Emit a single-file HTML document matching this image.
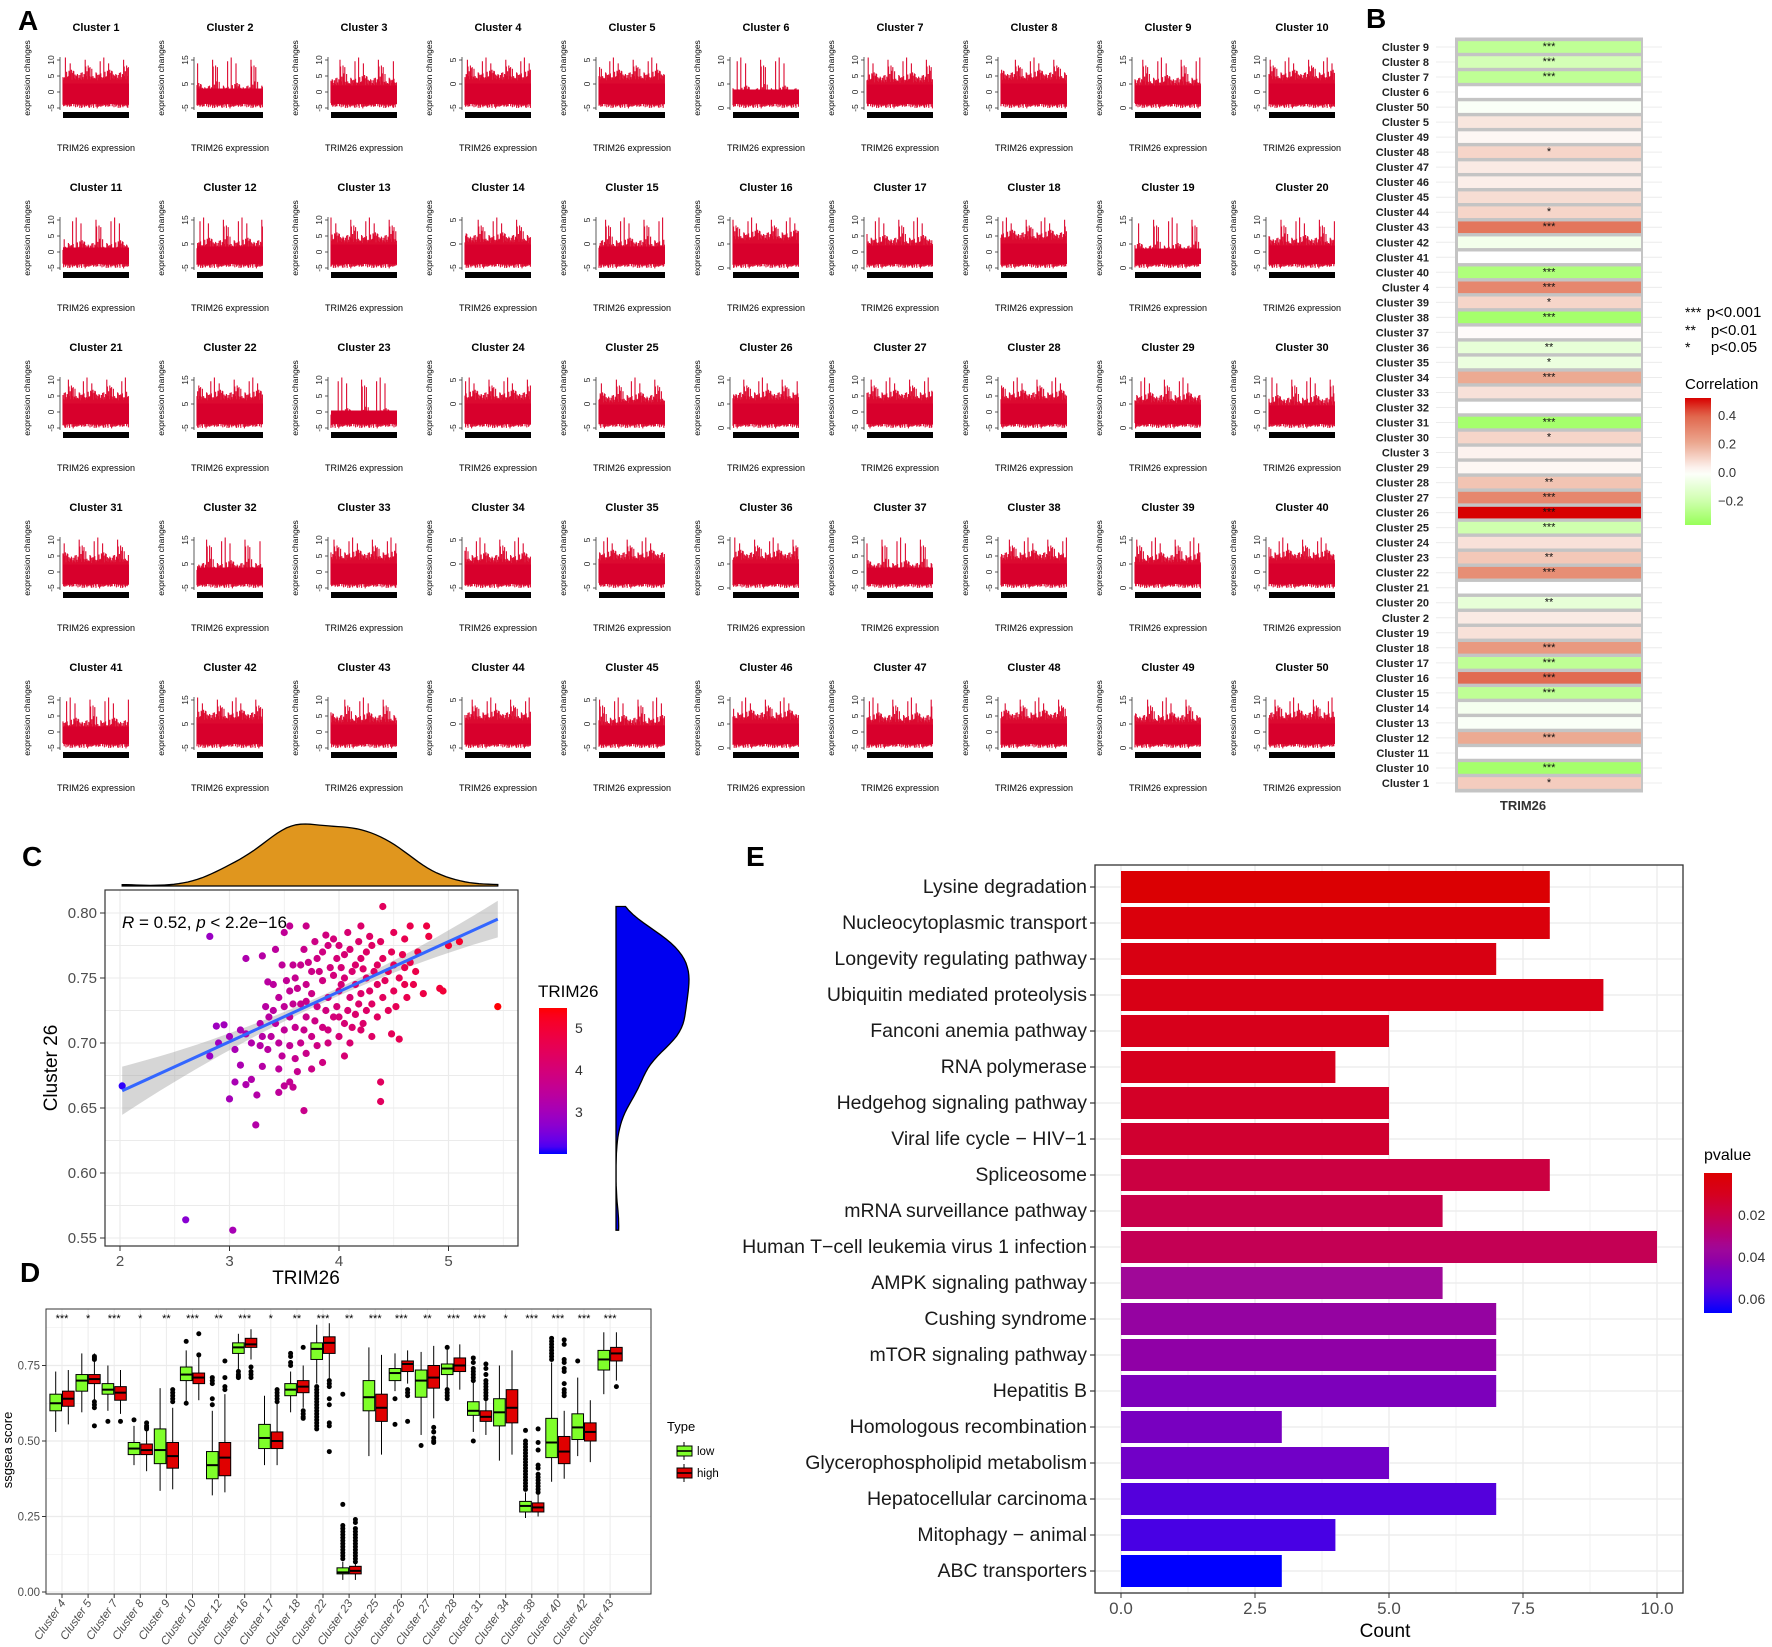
<!DOCTYPE html>
<html><head><meta charset="utf-8"><style>
html,body{margin:0;padding:0;background:#fff}
svg{display:block;font-family:"Liberation Sans",Arial,sans-serif}
</style></head><body>
<svg id="fig" xmlns="http://www.w3.org/2000/svg" width="1772" height="1647" viewBox="0 0 1772 1647">
<rect x="0" y="0" width="1772" height="1647" fill="#fff"/>
<text x="18" y="30" font-size="28" font-weight="bold">A</text>
<text x="1366" y="28" font-size="28" font-weight="bold">B</text>
<text x="22" y="866" font-size="28" font-weight="bold">C</text>
<text x="20" y="1282" font-size="28" font-weight="bold">D</text>
<text x="746" y="866" font-size="28" font-weight="bold">E</text>
<g id="gA"></g>
<g id="gB"></g>
<g id="gC"></g>
<g id="gD"></g>
<g id="gE"></g>
</svg>
<script>
// ---------- DATA ----------
// Panel A (mini plots)
const spikeHi=[0.62,0.71,0.58,0.95,0.66,0.60,0.74,0.57,0.69,0.63,0.82,0.59,0.67,0.72,0.61,0.56,0.78,0.64,0.70,0.58,0.88,0.62,0.66,0.60,0.73,0.57,0.65,0.69,0.99,0.61,0.64,0.58,0.71,0.63,0.76,0.60,0.67,0.59,0.84,0.62,0.68,0.57,0.72,0.65,0.61,0.79,0.58,0.66,0.70,0.63,0.92,0.60,0.64,0.68,0.57,0.74,0.62,0.69,0.59,0.81,0.66,0.61,0.73,0.64];
const spikeLo=[0.10,0.06,0.12,0.08,0.04,0.11,0.09,0.07,0.13,0.05,0.10,0.08,0.12,0.06,0.09,0.03,0.11,0.07,0.10,0.05,0.12,0.08,0.06,0.11,0.09,0.04,0.10,0.07,0.13,0.06,0.08,0.10,0.05,0.12,0.07,0.09,0.11,0.04,0.08,0.10,0.06,0.12,0.09,0.07,0.11,0.05,0.10,0.08,0.13,0.06,0.09,0.11,0.04,0.07,0.10,0.12,0.08,0.06,0.11,0.09,0.05,0.10,0.07,0.12];
const clusterDrop=[0,0.25,0.1,0,0,0.3,0.05,0,0.1,0, 0.2,0.15,0.05,0.05,0.15,0,0.1,0,0.25,0.1, 0,0,0.35,0,0.05,0,0,0,0.05,0.1, 0.05,0.2,0,0.05,0,0,0.2,0,0.05,0, 0.15,0,0.05,0,0.1,0,0.05,0,0.05,0];
const tickSets=[["-5","0","5","10"],["-5","5","15"],["-5","0","5","10"],["-5","0","5"],["-5","0","5"],["0","5","10"],["-5","0","5","10"],["-5","0","5","10"],["0","5","15"],["-5","0","5","10"]];
// Panel B
const bNames=["Cluster 9","Cluster 8","Cluster 7","Cluster 6","Cluster 50","Cluster 5","Cluster 49","Cluster 48","Cluster 47","Cluster 46","Cluster 45","Cluster 44","Cluster 43","Cluster 42","Cluster 41","Cluster 40","Cluster 4","Cluster 39","Cluster 38","Cluster 37","Cluster 36","Cluster 35","Cluster 34","Cluster 33","Cluster 32","Cluster 31","Cluster 30","Cluster 3","Cluster 29","Cluster 28","Cluster 27","Cluster 26","Cluster 25","Cluster 24","Cluster 23","Cluster 22","Cluster 21","Cluster 20","Cluster 2","Cluster 19","Cluster 18","Cluster 17","Cluster 16","Cluster 15","Cluster 14","Cluster 13","Cluster 12","Cluster 11","Cluster 10","Cluster 1"];
const bCorr=[-0.25,-0.18,-0.25,0.0,-0.02,0.06,0.02,0.1,0.05,0.04,0.08,0.1,0.35,-0.05,0.0,-0.3,0.3,0.1,-0.33,0.01,-0.1,-0.08,0.2,0.07,0.0,-0.33,0.1,0.03,0.02,0.14,0.3,0.52,-0.2,0.07,0.13,0.28,0.0,-0.1,0.05,0.07,0.25,-0.25,0.38,-0.25,-0.04,-0.02,0.2,0.0,-0.33,0.12];
const bStars=["***","***","***","","","","","*","","","","*","***","","","***","***","*","***","","**","*","***","","","***","*","","","**","***","***","***","","**","***","","**","","","***","***","***","***","","","***","","***","*"];
// Panel C
const scX=[2.02,2.82,2.6,3.03,5.45,4.4,3.5,2.88,2.95,3.1,3.15,3.0,2.9,3.3,3.28,2.82,3.05,3.2,3.35,3.1,3.2,3.15,3.05,3.3,3.45,3.55,3.0,3.25,3.45,3.24,3.68,3.5,3.58,4.38,4.38,4.48,4.55,4.3,4.2,3.9,4.0,4.6,4.95,4.92,4.77,5.0,5.1,4.5,4.6,4.82,4.65,4.8,4.2,3.7,3.55,3.3,3.42,3.15,3.35,3.45,3.5,3.55,3.6,3.65,3.7,3.75,3.8,3.85,3.9,3.95,4.0,4.05,4.1,4.15,4.2,4.25,4.3,4.35,4.4,4.45,4.5,4.55,4.6,4.65,4.7,4.35,4.25,4.15,4.05,3.95,3.85,3.75,3.65,3.55,3.6,3.7,3.8,3.9,4.0,4.1,4.2,4.3,4.4,4.5,4.45,4.35,4.25,4.15,4.05,3.95,3.85,3.75,3.65,3.55,3.5,3.42,3.4,3.38,3.48,3.6,3.7,3.8,3.9,4.0,4.1,3.62,3.75,3.85,4.05,3.58,3.68,3.78,3.88,3.98,4.08,4.18,4.28,4.38,3.92,4.02,4.12,4.22,3.82,3.72,3.62,3.52,3.48,3.4,4.48,4.58,4.68,4.72,3.33,3.36,3.28,3.98,4.08,3.88,3.78,3.68,4.28,4.18,3.45,3.58,3.7,4.02,4.32,4.42,4.52,4.62,4.12,4.22];
const scY=[0.667,0.782,0.564,0.556,0.728,0.805,0.785,0.713,0.714,0.71,0.707,0.705,0.7,0.705,0.698,0.69,0.695,0.7,0.695,0.683,0.672,0.668,0.67,0.682,0.68,0.67,0.657,0.66,0.662,0.637,0.648,0.667,0.666,0.67,0.655,0.707,0.703,0.705,0.71,0.71,0.72,0.745,0.74,0.742,0.738,0.775,0.778,0.785,0.78,0.782,0.79,0.79,0.79,0.79,0.79,0.767,0.772,0.765,0.747,0.735,0.728,0.74,0.75,0.76,0.745,0.755,0.765,0.77,0.775,0.78,0.775,0.768,0.772,0.76,0.765,0.77,0.775,0.76,0.765,0.755,0.76,0.75,0.758,0.762,0.755,0.745,0.75,0.745,0.75,0.752,0.748,0.738,0.73,0.72,0.712,0.72,0.728,0.735,0.74,0.735,0.738,0.73,0.735,0.74,0.725,0.72,0.725,0.722,0.715,0.72,0.712,0.705,0.7,0.698,0.71,0.715,0.725,0.705,0.69,0.688,0.692,0.698,0.7,0.705,0.7,0.678,0.68,0.685,0.69,0.76,0.772,0.778,0.783,0.765,0.785,0.778,0.782,0.778,0.758,0.758,0.755,0.757,0.755,0.762,0.742,0.748,0.76,0.745,0.77,0.768,0.745,0.77,0.728,0.72,0.715,0.728,0.725,0.725,0.717,0.71,0.74,0.73,0.7,0.73,0.732,0.745,0.755,0.748,0.728,0.735,0.712,0.715];
const cXTicks=[2,3,4,5];
const cYTicks=[0.55,0.60,0.65,0.70,0.75,0.80];
const fitLine=[0.5855,0.0385]; // intercept, slope
// Panel D
const dGroups=["Cluster 4","Cluster 5","Cluster 7","Cluster 8","Cluster 9","Cluster 10","Cluster 12","Cluster 16","Cluster 17","Cluster 18","Cluster 22","Cluster 23","Cluster 25","Cluster 26","Cluster 27","Cluster 28","Cluster 31","Cluster 34","Cluster 38","Cluster 40","Cluster 42","Cluster 43"];
const dStars=["***","*","***","*","**","***","**","***","*","**","***","**","***","***","**","***","***","*","***","***","***","***"];
// [whiskerLow, q1, median, q3, whiskerHigh]
const dLow=[[.53,.60,.625,.655,.73],[.595,.665,.70,.72,.79],[.60,.655,.67,.69,.75],[.42,.455,.475,.495,.55],[.335,.425,.47,.54,.675],[.63,.70,.72,.745,.80],[.32,.375,.42,.465,.60],[.73,.79,.81,.825,.855],[.42,.475,.51,.555,.65],[.595,.65,.67,.69,.73],[.69,.77,.805,.825,.885],[.04,.06,.065,.08,.10],[.45,.60,.645,.70,.81],[.665,.70,.725,.74,.79],[.52,.645,.70,.735,.795],[.67,.72,.74,.755,.815],[.53,.585,.60,.63,.70],[.435,.55,.595,.64,.75],[.245,.265,.285,.30,.33],[.365,.445,.495,.575,.76],[.45,.505,.545,.59,.71],[.655,.735,.77,.80,.86]];
const dHigh=[[.555,.615,.64,.665,.735],[.62,.69,.705,.72,.79],[.59,.635,.66,.68,.735],[.40,.455,.47,.49,.55],[.34,.41,.45,.495,.61],[.635,.69,.71,.725,.78],[.33,.385,.445,.495,.655],[.77,.81,.82,.84,.87],[.42,.475,.50,.53,.63],[.61,.66,.68,.70,.75],[.69,.79,.825,.845,.89],[.04,.06,.07,.085,.105],[.455,.565,.61,.655,.785],[.69,.73,.755,.765,.80],[.575,.675,.71,.75,.815],[.67,.73,.75,.775,.82],[.52,.565,.58,.60,.66],[.455,.56,.61,.67,.80],[.25,.265,.28,.295,.33],[.375,.425,.465,.515,.60],[.43,.50,.53,.56,.635],[.70,.765,.79,.81,.86]];
const dOutLow=[[],[],[.565],[.57],[],[.83,.625],[.71,.70,.69,.64,.62],[.73,.72,.715,.71],[],[.79,.78,.76,.75],[.68,.67,.66,.65,.64,.63,.62,.61,.60,.59,.58,.57,.56,.55,.54],[.655,.29,.22,.21,.2,.19,.18,.17,.16,.15,.14,.13,.12,.11],[],[.64,.555],[.485],[.81,.67,.66,.65,.64],[.775,.76,.74,.73,.72,.71,.70,.5],[],[.535,.5,.49,.48,.47,.46,.45,.44,.43,.42,.41,.4,.39,.38,.37,.36,.35,.34],[.84,.83,.82,.81,.80,.79,.78,.77],[.765],[]];
const dOutHigh=[[],[.77,.775,.78,.63,.62,.61,.55],[.565],[.55,.545,.54,.56],[.67,.66,.65,.64,.63],[.855,.785],[.765,.71,.68,.67],[.745,.73,.72,.71],[.67,.66,.65,.64,.63],[.81,.60,.59,.58,.575],[.70,.69,.68,.64,.62,.56,.55,.465],[.24,.23,.21,.2,.19,.18,.17,.16,.15,.14,.13,.12,.11,.10],[],[.67,.66,.65,.565],[.545,.53,.51,.50,.495],[],[.755,.74,.72,.70,.69,.68,.67,.66,.65,.64],[],[.54,.495,.47,.42,.41,.39,.38,.37,.36,.35,.34,.33],[.835,.82,.77,.76,.74,.73,.69,.67,.66,.65],[],[.68]];
const dYTicks=[0,0.25,0.5,0.75];
const dYLabels=["0.00","0.25","0.50","0.75"];
// Panel E
const ePaths=["Lysine degradation","Nucleocytoplasmic transport","Longevity regulating pathway","Ubiquitin mediated proteolysis","Fanconi anemia pathway","RNA polymerase","Hedgehog signaling pathway","Viral life cycle \u2212 HIV\u22121","Spliceosome","mRNA surveillance pathway","Human T\u2212cell leukemia virus 1 infection","AMPK signaling pathway","Cushing syndrome","mTOR signaling pathway","Hepatitis B","Homologous recombination","Glycerophospholipid metabolism","Hepatocellular carcinoma","Mitophagy \u2212 animal","ABC transporters"];
const eCounts=[8,8,7,9,5,4,5,5,8,6,10,6,7,7,7,3,5,7,4,3];
const ePvals=[0.001,0.004,0.006,0.007,0.009,0.010,0.012,0.014,0.018,0.020,0.022,0.036,0.040,0.042,0.046,0.047,0.050,0.056,0.058,0.067];
const eXTicks=[0,2.5,5,7.5,10];
const eXLabels=["0.0","2.5","5.0","7.5","10.0"];
const ePTicks=[0.02,0.04,0.06];

// ---------- HELPERS ----------
const NS="http://www.w3.org/2000/svg";
function mk(tag,attrs,parent,txt){const e=document.createElementNS(NS,tag);for(const k in attrs)e.setAttribute(k,attrs[k]);if(txt!==undefined)e.textContent=txt;parent.appendChild(e);return e;}
function hex(c){return [parseInt(c.slice(1,3),16),parseInt(c.slice(3,5),16),parseInt(c.slice(5,7),16)];}
function rgbStr(a){return "rgb("+a.map(v=>Math.round(Math.max(0,Math.min(255,v)))).join(",")+")";}
function srgb2lin(c){c/=255;return c<=0.04045?c/12.92:Math.pow((c+0.055)/1.055,2.4);}
function lin2srgb(c){c=c<=0.0031308?12.92*c:1.055*Math.pow(c,1/2.4)-0.055;return c*255;}
function toLab(rgb){const[r,g,b]=rgb.map(srgb2lin);let X=(0.4124*r+0.3576*g+0.1805*b)/0.95047,Y=0.2126*r+0.7152*g+0.0722*b,Z=(0.0193*r+0.1192*g+0.9505*b)/1.08883;const f=t=>t>0.008856?Math.cbrt(t):7.787*t+16/116;const fx=f(X),fy=f(Y),fz=f(Z);return[116*fy-16,500*(fx-fy),200*(fy-fz)];}
function fromLab(l){const fy=(l[0]+16)/116,fx=fy+l[1]/500,fz=fy-l[2]/200;const fi=t=>t*t*t>0.008856?t*t*t:(t-16/116)/7.787;const X=fi(fx)*0.95047,Y=fi(fy),Z=fi(fz)*1.08883;const r=3.2406*X-1.5372*Y-0.4986*Z,g=-0.9689*X+1.8758*Y+0.0415*Z,b=0.0557*X-0.2040*Y+1.0570*Z;return[lin2srgb(r),lin2srgb(g),lin2srgb(b)];}
function labMix(c1,c2,t){const a=toLab(hex(c1)),b=toLab(hex(c2));return rgbStr(fromLab(a.map((v,i)=>v+(b[i]-v)*t)));}
function stops(list,v){if(v<=list[0][0])return rgbStr(hex(list[0][1]));for(let i=1;i<list.length;i++){if(v<=list[i][0]){const t=(v-list[i-1][0])/(list[i][0]-list[i-1][0]);const a=hex(list[i-1][1]),b=hex(list[i][1]);return rgbStr(a.map((x,k)=>x+(b[k]-x)*t));}}return rgbStr(hex(list[list.length-1][1]));}

// ---------- PANEL A ----------
(function(){
const g=document.getElementById('gA');
for(let c=0;c<50;c++){
  const col=c%10,row=Math.floor(c/10);
  const cx=96+134*col, oy=160*row;
  const sub=mk('g',{},g);
  
  
  const t=mk('text',{x:cx,y:31+oy,'font-size':11,'font-weight':'bold','text-anchor':'middle'},sub,'Cluster '+(c+1));
  
  
  const yl=mk('text',{x:0,y:0,'font-size':8.5,'text-anchor':'middle',transform:'translate('+(cx-66)+','+(78+oy)+') rotate(-90)'},sub,'expression changes');
  
  
  const xl=mk('text',{x:cx,y:151+oy,'font-size':9,'text-anchor':'middle'},sub,'TRIM26 expression');
  
  
  const ax=mk('line',{x1:cx-36,x2:cx-36,y1:57+oy,y2:110+oy,stroke:'#333','stroke-width':0.8},sub);
  
  
  const ts=tickSets[c%10];
  ts.forEach((lab,i)=>{
    const yy=108+oy-i*(48/(ts.length-1));
    const tk=mk('line',{x1:cx-39,x2:cx-36,y1:yy,y2:yy,stroke:'#333','stroke-width':0.8},sub);
    
    
    const tl=mk('text',{x:0,y:0,'font-size':8.5,'text-anchor':'middle',fill:'#222',transform:'translate('+(cx-42)+','+yy+') rotate(-90)'},sub,lab);
    
    
  });
  const drop=clusterDrop[c];
  let d='';
  for(let j=0;j<110;j++){
    const idx=(j*7+c*13)%64;
    let hi=spikeHi[idx]; if(hi<0.8) hi-=drop;
    const lo=spikeLo[(idx+c)%64];
    const x=cx-33+j*0.6;
    d+='M'+x.toFixed(1)+' '+(110+oy-lo*53).toFixed(1)+'V'+(110+oy-hi*53).toFixed(1);
  }
  const p=mk('path',{d:d,stroke:'#dc0a30','stroke-width':1.1,fill:'none'},sub);
  
  
  const core=mk('rect',{x:cx-33,y:110+oy-0.5*53+drop*20,width:66,height:(0.5-drop*0.38)*53-6,fill:'#d8002c'},sub);
  
  
  const bar=mk('rect',{x:cx-33,y:112+oy,width:66,height:6,fill:'#000'},sub);
  
  
}
})();

// ---------- PANEL B ----------
(function(){
const g=document.getElementById('gB');
const heat=[[-0.37,'#98ff58'],[-0.2,'#cfffae'],[0,'#ffffff'],[0.2,'#ecaa92'],[0.4,'#e0644a'],[0.52,'#d80000']];
const y0=47,step=15.02;
const bg=mk('rect',{x:1455,y:y0-step/2-2,width:188,height:step*50+4,fill:'#c4c4c4'},g);


bNames.forEach((n,i)=>{
  const y=y0+i*step;
  const gl=mk('line',{x1:1436,x2:1662,y1:y,y2:y,stroke:'#ececec','stroke-width':1},g);
  
  
  const lab=mk('text',{x:1429,y:y+4,'font-size':11,'font-weight':'bold','text-anchor':'end',fill:'#222'},g,n);
  
  
});
g.appendChild(bg);
bNames.forEach((n,i)=>{
  const y=y0+i*step;
  const r=mk('rect',{x:1458,y:y-5.8,width:183,height:11.6,fill:stops(heat,bCorr[i])},g);
  
  
  if(bStars[i]){
    const s=mk('text',{x:1549,y:y+3,'font-size':11,'text-anchor':'middle',fill:'#111'},g,bStars[i]);
    
    
  }
});
const xl=mk('text',{x:1523,y:810,'font-size':13,'font-weight':'bold','text-anchor':'middle',fill:'#333'},g,'TRIM26');


[["***","p<0.001",317],["**","p<0.01",335],["*","p<0.05",352]].forEach(a=>{
  const t1=mk('text',{x:1685,y:a[2],'font-size':14},g,a[0]);
  
  
  const t2=mk('text',{x:1734,y:a[2],'font-size':15,'text-anchor':'middle'},g,a[1]);
  
  
});
const ct=mk('text',{x:1685,y:389,'font-size':15},g,'Correlation');


const defs=mk('defs',{},g);
const lg=mk('linearGradient',{id:'corrGrad',x1:0,y1:0,x2:0,y2:1},defs);
for(let k=0;k<=20;k++){const v=0.52-k*(0.89/20);mk('stop',{offset:(k/20),'stop-color':stops(heat,v)},lg);}
const cb=mk('rect',{x:1685,y:398,width:26,height:127,fill:'url(#corrGrad)'},g);


[["0.4",0.4],["0.2",0.2],["0.0",0],["\u22120.2",-0.2]].forEach(a=>{
  const y=398+(0.52-a[1])/0.89*127;
  const t=mk('text',{x:1718,y:y+5,'font-size':13,fill:'#333'},g,a[0]);
  
  
});
})();

// ---------- PANEL C ----------
(function(){
const g=document.getElementById('gC');
const L=105,R=518,T=890,B=1246;
const X=v=>120+(v-2)*109.5, Y=v=>913+(0.80-v)/0.05*65;
const fr=mk('rect',{x:L,y:T,width:R-L,height:B-T,fill:'#fff',stroke:'#333','stroke-width':1.2},g);


for(let v=1.5;v<=5.51;v+=0.5){const x=X(v);if(x<L||x>R)continue;const l=mk('line',{x1:x,x2:x,y1:T,y2:B,stroke:'#ebebeb','stroke-width':Number.isInteger(v)?1.2:0.7},g);}
for(let v=0.525;v<=0.81;v+=0.025){const y=Y(v);if(y<T||y>B)continue;const l=mk('line',{x1:L,x2:R,y1:y,y2:y,stroke:'#ebebeb','stroke-width':1},g);}
g.appendChild(fr); fr.setAttribute('fill','none');
const xa=2.02,xb=5.45;
const mean=scX.reduce((a,b)=>a+b,0)/scX.length;
const se=x=>0.003+0.0045*Math.pow(x-mean,2);
let up='',dn='';
for(let k=0;k<=30;k++){const x=xa+(xb-xa)*k/30;const yv=fitLine[0]+fitLine[1]*x;up+=(k?'L':'M')+X(x).toFixed(1)+' '+Y(yv+se(x)).toFixed(1);dn='L'+X(x).toFixed(1)+' '+Y(yv-se(x)).toFixed(1)+dn;}
const rb=mk('path',{d:up+dn+'Z',fill:'#999',opacity:0.4},g);


const tcol=v=>labMix('#0000ff','#ff0000',Math.max(0,Math.min(1,(v-1.95)/3.53)));
scX.forEach((x,i)=>{
  const c=mk('circle',{cx:X(x),cy:Y(scY[i]),r:3.6,fill:tcol(x)},g);
  
  
});
const ln=mk('line',{x1:X(xa),y1:Y(fitLine[0]+fitLine[1]*xa),x2:X(xb),y2:Y(fitLine[0]+fitLine[1]*xb),stroke:'#3366ff','stroke-width':3},g);


const st=mk('text',{x:122,y:928,'font-size':17},g);


st.innerHTML='<tspan font-style="italic">R</tspan> = 0.52, <tspan font-style="italic">p</tspan> &lt; 2.2e\u221216';
cXTicks.forEach(v=>{const x=X(v);const tk=mk('line',{x1:x,x2:x,y1:B,y2:B+5,stroke:'#333'},g);const t=mk('text',{x:x,y:B+20,'font-size':15,'text-anchor':'middle',fill:'#4d4d4d'},g,String(v));});
cYTicks.forEach(v=>{const y=Y(v);const tk=mk('line',{x1:L-5,x2:L,y1:y,y2:y,stroke:'#333'},g);const t=mk('text',{x:L-8,y:y+5,'font-size':15,'text-anchor':'end',fill:'#4d4d4d'},g,v.toFixed(2));});
const xt=mk('text',{x:306,y:1284,'font-size':19,'text-anchor':'middle'},g,'TRIM26');


const yt=mk('text',{x:0,y:0,'font-size':19,'text-anchor':'middle',transform:'translate(57,1068) rotate(-90)'},g,'Cluster 26');


function kde(arr,bw,v){let s=0;arr.forEach(a=>{const z=(v-a)/bw;s+=Math.exp(-0.5*z*z);});return s;}
const xmin=Math.min(...scX),xmax=Math.max(...scX);
let pts=[],mx=0;
for(let k=0;k<=80;k++){const v=xmin+(xmax-xmin)*k/80;const d=kde(scX,0.17,v);pts.push([v,d]);mx=Math.max(mx,d);}
let dp='M'+X(xmin)+' 886';pts.forEach(p=>dp+='L'+X(p[0]).toFixed(1)+' '+(886-p[1]/mx*62).toFixed(1));dp+='L'+X(xmax)+' 886Z';
const td=mk('path',{d:dp,fill:'#e0961e',stroke:'#000','stroke-width':1.3},g);


const ymin=Math.min(...scY),ymax=Math.max(...scY);
pts=[];mx=0;
for(let k=0;k<=80;k++){const v=ymin+(ymax-ymin)*k/80;const d=kde(scY,0.013,v);pts.push([v,d]);mx=Math.max(mx,d);}
dp='M616 '+Y(ymin);pts.forEach(p=>dp+='L'+(616+p[1]/mx*73).toFixed(1)+' '+Y(p[0]).toFixed(1));dp+='L616 '+Y(ymax)+'Z';
const rd=mk('path',{d:dp,fill:'#0000f0',stroke:'#000','stroke-width':1.3},g);


const lt=mk('text',{x:538,y:997,'font-size':17},g,'TRIM26');


const defs=mk('defs',{},g);
const lg=mk('linearGradient',{id:'trimGrad',x1:0,y1:0,x2:0,y2:1},defs);
for(let k=0;k<=20;k++)mk('stop',{offset:k/20,'stop-color':labMix('#ff0000','#0000ff',k/20)},lg);
const cb=mk('rect',{x:539,y:1008,width:28,height:146,fill:'url(#trimGrad)'},g);


[5,4,3].forEach(v=>{const y=1028+(5-v)*42;const t=mk('text',{x:575,y:y+5,'font-size':14,fill:'#333'},g,String(v));});
})();

// ---------- PANEL D ----------
(function(){
const g=document.getElementById('gD');
const L=46,R=651,T=1309,B=1594;
const Y=v=>1592-v/0.25*75.5, X=i=>62+i*26.1;
const fr=mk('rect',{x:L,y:T,width:R-L,height:B-T,fill:'none',stroke:'#333','stroke-width':1},g);
for(let v=0;v<=0.95;v+=0.125){const l=mk('line',{x1:L,x2:R,y1:Y(v),y2:Y(v),stroke:'#ebebeb','stroke-width':v*8%2===0?1.2:0.6},g);}
dGroups.forEach((n,i)=>{const l=mk('line',{x1:X(i),x2:X(i),y1:T,y2:B,stroke:'#ebebeb','stroke-width':1},g);});
g.appendChild(fr);


function box(cx,s,fill,outs){
  const bg=mk('g',{},g);
  
  
  mk('line',{x1:cx,x2:cx,y1:Y(s[0]),y2:Y(s[4]),stroke:'#000','stroke-width':1},bg);
  mk('rect',{x:cx-5.8,y:Y(s[3]),width:11.6,height:Y(s[1])-Y(s[3]),fill:fill,stroke:'#000','stroke-width':1},bg);
  mk('line',{x1:cx-5.8,x2:cx+5.8,y1:Y(s[2]),y2:Y(s[2]),stroke:'#000','stroke-width':2},bg);
  outs.forEach(o=>{const c=mk('circle',{cx:cx,cy:Y(o),r:2.5,fill:'#000'},bg);});
}
dGroups.forEach((n,i)=>{
  box(X(i)-6.3,dLow[i],'#7fff2a',dOutLow[i]);
  box(X(i)+6.3,dHigh[i],'#e00000',dOutHigh[i]);
  const s=mk('text',{x:X(i),y:1322,'font-size':11,'text-anchor':'middle'},g,dStars[i]);
  
  
  const tk=mk('line',{x1:X(i),x2:X(i),y1:B,y2:B+4,stroke:'#333'},g);
  
  
  const t=mk('text',{x:0,y:0,'font-size':11.5,'font-style':'italic','text-anchor':'end',fill:'#4d4d4d',transform:'translate('+(X(i)+4)+','+(B+9)+') rotate(-55)'},g,n);
  
  
});
dYTicks.forEach((v,i)=>{const tk=mk('line',{x1:L-4,x2:L,y1:Y(v),y2:Y(v),stroke:'#333'},g);const t=mk('text',{x:L-6,y:Y(v)+4,'font-size':11.5,'text-anchor':'end',fill:'#4d4d4d'},g,dYLabels[i]);});
const yt=mk('text',{x:0,y:0,'font-size':13,'text-anchor':'middle',transform:'translate(12,1450) rotate(-90)'},g,'ssgsea score');


const lt=mk('text',{x:667,y:1431,'font-size':13},g,'Type');


[['low','#7fff2a',1451],['high','#e00000',1473]].forEach(a=>{
  const kg=mk('g',{},g);
  
  
  mk('line',{x1:684,x2:684,y1:a[2]-9,y2:a[2]+9,stroke:'#000'},kg);
  mk('rect',{x:677,y:a[2]-5,width:15,height:10,fill:a[1],stroke:'#000'},kg);
  mk('line',{x1:677,x2:692,y1:a[2],y2:a[2],stroke:'#000','stroke-width':1.6},kg);
  mk('text',{x:697,y:a[2]+4,'font-size':11.5},kg,a[0]);
});
})();

// ---------- PANEL E ----------
(function(){
const g=document.getElementById('gE');
const L=1095,R=1683,T=865,B=1593;
const X=v=>1121+v*53.6, Y=i=>887+i*36;
const pscale=[[0.0,'#dc0000'],[0.010,'#d6001e'],[0.020,'#c8004a'],[0.030,'#b4007a'],[0.036,'#a00898'],[0.042,'#9000a6'],[0.047,'#7800c0'],[0.052,'#6c00cc'],[0.058,'#4800e4'],[0.067,'#0000ff']];
const pcol=p=>stops(pscale,p);
for(let v=0;v<=11;v+=1.25){const x=X(v);if(x>R)continue;const l=mk('line',{x1:x,x2:x,y1:T,y2:B,stroke:'#ebebeb','stroke-width':(v%2.5===0)?1.3:0.7},g);}
ePaths.forEach((n,i)=>{const l=mk('line',{x1:L,x2:R,y1:Y(i),y2:Y(i),stroke:'#ebebeb','stroke-width':1.3},g);});
ePaths.forEach((n,i)=>{
  const r=mk('rect',{x:X(0),y:Y(i)-16,width:X(eCounts[i])-X(0),height:32,fill:pcol(ePvals[i])},g);
  
  
  const tk=mk('line',{x1:L-5,x2:L,y1:Y(i),y2:Y(i),stroke:'#333','stroke-width':1.2},g);
  
  
  const t=mk('text',{x:L-8,y:Y(i)+6,'font-size':19.5,'text-anchor':'end',fill:'#1a1a1a'},g,n);
  
  
});
const fr=mk('rect',{x:L,y:T,width:R-L,height:B-T,fill:'none',stroke:'#333','stroke-width':1.3},g);


eXTicks.forEach((v,i)=>{const x=X(v);const tk=mk('line',{x1:x,x2:x,y1:B,y2:B+5,stroke:'#333'},g);const t=mk('text',{x:x,y:B+21,'font-size':17,'text-anchor':'middle',fill:'#4d4d4d'},g,eXLabels[i]);});
const xt=mk('text',{x:1385,y:1637,'font-size':19,'text-anchor':'middle'},g,'Count');


const lt=mk('text',{x:1704,y:1160,'font-size':16},g,'pvalue');


const defs=mk('defs',{},g);
const lg=mk('linearGradient',{id:'pGrad',x1:0,y1:0,x2:0,y2:1},defs);
for(let k=0;k<=20;k++)mk('stop',{offset:k/20,'stop-color':pcol(0.0+k/20*0.067)},lg);
const cb=mk('rect',{x:1704,y:1173,width:28,height:140,fill:'url(#pGrad)'},g);


ePTicks.forEach(v=>{const y=1215+(v-0.02)/0.02*42;const t=mk('text',{x:1738,y:y+5,'font-size':14,fill:'#333'},g,v.toFixed(2));});
})();
</script>
</body></html>
